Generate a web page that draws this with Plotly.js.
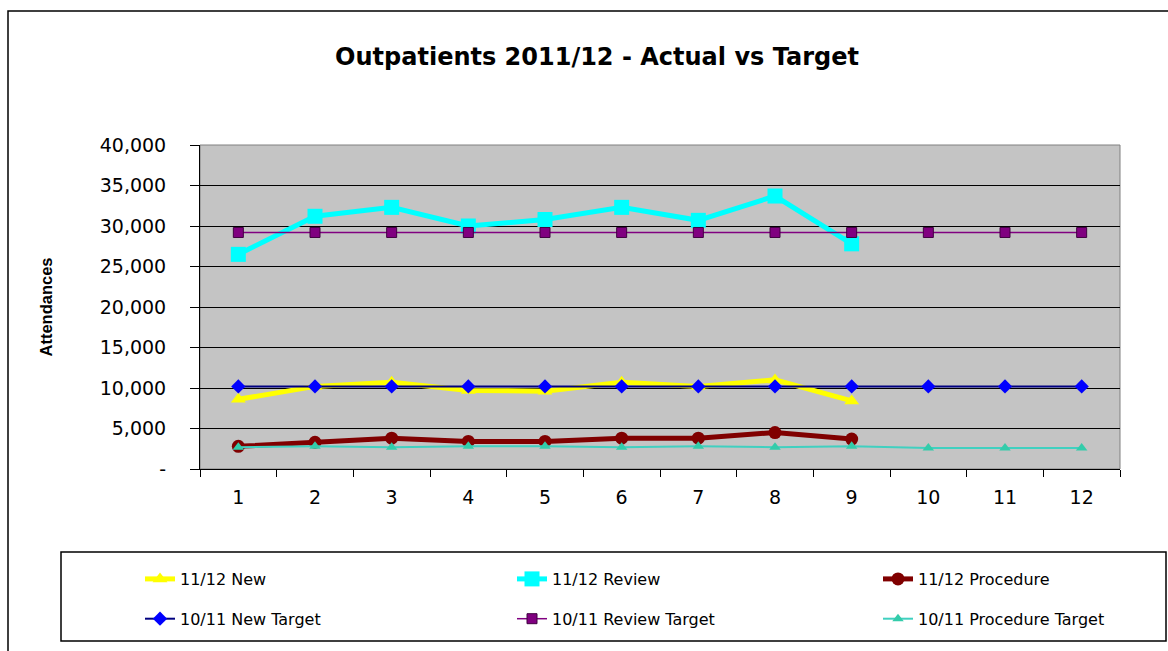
<!DOCTYPE html>
<html>
<head>
<meta charset="utf-8">
<script src="https://cdn.plot.ly/plotly-3.0.1.min.js"></script>
<style>
html,body{margin:0;padding:0;background:#fff;}
#chart{width:1168px;height:651px;}
</style>
</head>
<body>
<div id="chart"></div>
<script>
// ---- data ----
const months = ["1","2","3","4","5","6","7","8","9","10","11","12"];
const actualMonths = ["1","2","3","4","5","6","7","8","9"];
const newActual = [8600, 10200, 10700, 9700, 9600, 10700, 10200, 11000, 8400];
const reviewActual = [26500, 31200, 32300, 30000, 30800, 32300, 30700, 33700, 27800];
const procedureActual = [2800, 3300, 3800, 3400, 3400, 3800, 3800, 4500, 3700];
const newTarget = [10200, 10200, 10200, 10200, 10200, 10200, 10200, 10200, 10200, 10200, 10200, 10200];
const reviewTarget = [29200, 29200, 29200, 29200, 29200, 29200, 29200, 29200, 29200, 29200, 29200, 29200];
const procedureTarget = [2700, 2800, 2700, 2800, 2800, 2700, 2800, 2700, 2800, 2600, 2600, 2600];
const yTickVals = [0, 5000, 10000, 15000, 20000, 25000, 30000, 35000, 40000];
const yTickText = ["-", "5,000", "10,000", "15,000", "20,000", "25,000", "30,000", "35,000", "40,000"];
const seriesNames = ["11/12 New", "11/12 Review", "11/12 Procedure", "10/11 New Target", "10/11 Review Target", "10/11 Procedure Target"];

const FONT = "DejaVu Sans, Liberation Sans, Arial, sans-serif";
const FONT2 = "Liberation Sans, Arial, sans-serif";

const traces = [
  {x: actualMonths, y: newActual, name: seriesNames[0], mode: "lines+markers", legend: "legend", legendgroup: "a",
   line: {color: "#FFFF00", width: 5}, marker: {symbol: "triangle-up", size: 13, color: "#FFFF00"}},
  {x: actualMonths, y: reviewActual, name: seriesNames[1], mode: "lines+markers", legend: "legend2", legendgroup: "b",
   line: {color: "#00FFFF", width: 5}, marker: {symbol: "square", size: 15, color: "#00FFFF"}},
  {x: actualMonths, y: procedureActual, name: seriesNames[2], mode: "lines+markers", legend: "legend3", legendgroup: "c",
   line: {color: "#800000", width: 5}, marker: {symbol: "circle", size: 13, color: "#800000"}},
  {x: months, y: newTarget, name: seriesNames[3], mode: "lines+markers", legend: "legend", legendgroup: "d",
   line: {color: "#000080", width: 2}, marker: {symbol: "diamond", size: 11, color: "#0000FF"}},
  {x: months, y: reviewTarget, name: seriesNames[4], mode: "lines+markers", legend: "legend2", legendgroup: "e",
   line: {color: "#800080", width: 1.5}, marker: {symbol: "square", size: 10, color: "#800080", line: {color: "#400040", width: 1}}},
  {x: months, y: procedureTarget, name: seriesNames[5], mode: "lines+markers", legend: "legend3", legendgroup: "f",
   line: {color: "#40D0C0", width: 2}, marker: {symbol: "triangle-up", size: 10, color: "#33CCAA"}}
];

const L = 200, R = 1120, T = 145, B = 469;
const px = X => (X - L) / (R - L);
const py = Y => (B - Y) / (B - T);

function legendAt(xText) {
  return {orientation: "v", x: px(xText - 40), xanchor: "left", y: py(562), yanchor: "top",
          font: {family: FONT, size: 16, color: "#000"}, tracegroupgap: 16,
          bgcolor: "rgba(0,0,0,0)", borderwidth: 0, traceorder: "grouped"};
}

const layout = {
  width: 1168, height: 651,
  margin: {l: L, r: 1168 - R, t: T, b: 651 - B, pad: 0, autoexpand: false},
  paper_bgcolor: "#ffffff",
  plot_bgcolor: "#c4c4c4",
  font: {family: FONT, color: "#000", size: 16},
  title: {text: "<b>Outpatients 2011/12 - Actual vs Target</b>", font: {family: FONT, size: 24, color: "#000"},
          xref: "container", x: 597 / 1168, xanchor: "center", yref: "container", y: 1 - 57 / 651, yanchor: "middle"},
  xaxis: {type: "category", categoryorder: "array", categoryarray: months, range: [-0.5, 11.5],
          showgrid: false, zeroline: false, showline: true, linecolor: "#000", linewidth: 1,
          ticks: "outside", tickson: "boundaries", ticklen: 7, tickcolor: "#000", ticklabelstandoff: 11,
          tickfont: {family: FONT, size: 19, color: "#000"}},
  yaxis: {range: [0, 40000], tickvals: yTickVals, ticktext: yTickText,
          showgrid: true, gridcolor: "#000", gridwidth: 1, zeroline: false,
          showline: true, linecolor: "#000", linewidth: 1,
          ticks: "outside", ticklen: 9, tickcolor: "#000", ticklabelstandoff: 20,
          tickfont: {family: FONT, size: 19, color: "#000"},
          title: {text: "<b>Attendances</b>", font: {family: FONT2, size: 16.5, color: "#000"}, standoff: 42}},
  showlegend: true,
  legend: legendAt(180),
  legend2: legendAt(552),
  legend3: legendAt(918),
  shapes: [
    {type: "rect", xref: "paper", yref: "paper", x0: 0, x1: 1, y0: 0, y1: 1, line: {color: "#808080", width: 1}, layer: "below"},
    {type: "rect", xref: "paper", yref: "paper", x0: px(61), x1: px(1166), y0: py(641), y1: py(552), line: {color: "#000", width: 1.5}},
    {type: "rect", xref: "paper", yref: "paper", x0: px(8), x1: px(1180), y0: py(665), y1: py(11), line: {color: "#000", width: 1.5}}
  ]
};

Plotly.newPlot("chart", traces, layout, {displayModeBar: false, responsive: false});
</script>
</body>
</html>
